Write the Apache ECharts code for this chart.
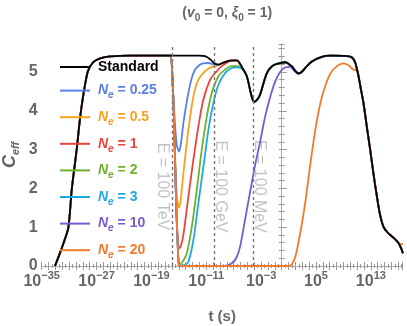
<!DOCTYPE html>
<html><head><meta charset="utf-8">
<script src="https://cdn.jsdelivr.net/npm/echarts/dist/echarts.min.js"></script>
<style>html,body{margin:0;padding:0;background:#fff}#c{width:407px;height:326px}</style>
</head><body><div id="c"></div>
<script>
// x values are log10(t / s)
const seriesNames = ['Standard','Ne = 0.25','Ne = 0.5','Ne = 1','Ne = 2','Ne = 3','Ne = 10','Ne = 20'];
const seriesColors = ['#000000','#5b7fe6','#f8a11e','#e8453c','#6fb12c','#1ea9e1','#7b5bcc','#f27a2f'];

const standard = [[-33.06,0],[-32.3,0.35],[-31.6,0.7],[-31.1,1.0],[-30.6,2.0],[-29.9,3.0],[-29.27,4.0],[-28.3,5.0],[-27.5,5.25],[-26.5,5.35],[-25,5.4],[-22,5.42],[-16.1,5.42],[-12,5.42],[-11.17,5.41],[-10.4,5.32],[-9.8,5.22],[-9.23,5.19],[-8.5,5.24],[-7.53,5.29],[-6.56,5.3],[-5.8,5.12],[-5.09,4.89],[-4.5,4.45],[-4.03,4.23],[-3.6,4.28],[-3.15,4.42],[-2.17,4.97],[-1.4,5.15],[-0.71,5.21],[0.5,5.25],[1.48,5.14],[2.0,5.02],[2.44,4.96],[2.9,5.0],[3.41,5.1],[4.39,5.27],[5.85,5.39],[7.06,5.42],[9.5,5.41],[10.2,5.38],[10.7,5.25],[11.0,5.05],[11.19,4.9],[11.5,4.6],[11.92,4.2],[12.4,3.6],[12.9,2.99],[13.4,2.35],[13.88,1.79],[14.3,1.35],[14.84,1.01],[15.5,0.85],[16.3,0.73],[17.0,0.6],[17.3,0.5],[17.5,0.42],[17.67,0.33]];

const ne025 = [[-16.03,5.42],[-15.85,4.5],[-15.6,3.75],[-15.3,3.12],[-14.97,2.95],[-14.65,3.22],[-14.34,3.68],[-13.61,4.46],[-12.88,4.97],[-11.9,5.19],[-10.69,5.23],[-9.9,5.2]];
const ne05 = [[-16.03,5.42],[-15.85,4.5],[-15.7,3.77],[-15.45,2.3],[-15.2,1.65],[-14.97,1.5],[-14.7,1.75],[-14.34,2.39],[-13.61,3.51],[-12.88,4.37],[-12.15,4.8],[-11.17,5.02],[-10.2,5.13],[-9.6,5.15]];
const ne1 = [[-16.03,5.42],[-15.85,4.5],[-15.7,3.77],[-15.41,1.7],[-15.2,0.8],[-14.97,0.45],[-14.7,0.52],[-14.34,0.8],[-13.61,1.79],[-12.88,2.74],[-12.15,3.6],[-11.42,4.29],[-10.44,4.8],[-9.72,4.97],[-8.74,5.15],[-7.9,5.25]];
const ne2 = [[-16.03,5.42],[-15.85,4.5],[-15.7,3.77],[-15.41,1.7],[-15.2,0.7],[-15.05,0.15],[-14.85,0.05],[-14.5,0.1],[-13.84,0.33],[-13.11,1.01],[-12.39,1.96],[-11.66,2.99],[-10.93,3.85],[-10.2,4.46],[-9.23,4.89],[-8.26,5.06],[-7.28,5.15],[-6.5,5.15],[-5.8,5.1]];
const ne3 = [[-16.03,5.42],[-15.85,4.5],[-15.7,3.77],[-15.41,1.7],[-15.2,0.7],[-15.05,0.1],[-14.9,0.01],[-14.2,0.02],[-13.61,0.11],[-12.88,0.67],[-12.15,1.62],[-11.42,2.56],[-10.69,3.51],[-9.96,4.2],[-9.23,4.67],[-8.26,4.97],[-7.28,5.1],[-6.5,5.12],[-5.8,5.08]];
const ne10 = [[-16.03,5.42],[-15.85,4.5],[-15.7,3.77],[-15.41,1.7],[-15.2,0.7],[-15.05,0.1],[-14.9,0],[-8.3,0],[-7.28,0.07],[-6.65,0.2],[-6.07,0.5],[-5.34,1.2],[-4.62,1.9],[-3.88,2.6],[-3.15,3.2],[-2.42,3.85],[-1.69,4.35],[-0.96,4.75],[-0.23,5.0],[0.5,5.12],[1.2,5.13],[1.8,5.03],[2.3,4.96]];
const ne20 = [[-16.03,5.42],[-15.85,4.5],[-15.7,3.77],[-15.41,1.7],[-15.2,0.7],[-15.05,0.1],[-14.9,0],[1.0,0],[1.5,0.05],[2.0,0.25],[2.7,0.85],[3.4,1.6],[4.15,2.6],[4.8,3.4],[5.4,4.0],[6.1,4.5],[7.06,4.95],[8.04,5.15],[9.0,5.22],[9.73,5.17],[10.46,5.06],[11.0,5.03]];
const ne20Tail = [[17.3,0.57],[17.67,0.56]];

const energyLines = [-16.0, -9.87, -4.22];
const energyLabels = ['E = 100 TeV','E = 100 GeV','E = 100 MeV'];
const energyLabelShift = [-9.5, 6, 6.3];
const labelYValue = 2.05;

const xMin = -35, xMax = 17.64, yMin = 0, yMax = 5.72;

// Curves share the standard history before the drop and merge back into it afterwards
function compose(own, tail) {
  const first = own[0][0], last = own[own.length-1][0];
  const stop = tail ? tail[0][0] : Infinity;
  const pre = standard.filter(p => p[0] < first);
  const post = standard.filter(p => p[0] > last && p[0] < stop);
  return pre.concat(own, post, tail || []);
}
const seriesData = [standard, compose(ne025), compose(ne05), compose(ne1), compose(ne2), compose(ne3), compose(ne10), compose(ne20, ne20Tail)];

const FONT = '"Liberation Sans", Arial, sans-serif';
const GRAY = '#666';
const grid = {left: 41.7, right: 4.3, top: 44, bottom: 60};

function legendFormatter(name) {
  if (name === 'Standard') return '{st|Standard}';
  return '{n|N}{e|e}{t|' + name.slice(2) + '}';
}
const legendRich = {
  st: {fontSize: 14, fontWeight: 'bold', fontFamily: FONT, lineHeight: 20, verticalAlign: 'middle', padding: [0,0,0,3]},
  n: {fontSize: 14, fontWeight: 'bold', fontStyle: 'italic', fontFamily: FONT, lineHeight: 20, verticalAlign: 'middle', padding: [0,0,0,3]},
  e: {fontSize: 10, fontWeight: 'bold', fontStyle: 'italic', fontFamily: FONT, lineHeight: 20, verticalAlign: 'bottom'},
  t: {fontSize: 14, fontWeight: 'bold', fontFamily: FONT, lineHeight: 20, verticalAlign: 'middle'}
};

const tickAxisCommon = {
  type: 'value', axisLabel: {show: false}, splitLine: {show: false},
  axisLine: {show: true, lineStyle: {color: '#aaa', width: 1}}
};

const option = {
  animation: false,
  backgroundColor: '#fff',
  title: {
    text: '({i|v}{s|0} = 0, {i|ξ}{s|0} = 1)',
    left: grid.left + (407 - grid.left - grid.right) / 2, top: -2, textAlign: 'center',
    textStyle: {
      fontSize: 14, fontWeight: 'bold', color: GRAY, fontFamily: FONT,
      rich: {
        i: {fontSize: 14, fontWeight: 'bold', fontStyle: 'italic', color: GRAY, fontFamily: FONT, lineHeight: 20, verticalAlign: 'middle'},
        s: {fontSize: 10, fontWeight: 'bold', color: GRAY, fontFamily: FONT, lineHeight: 20, verticalAlign: 'bottom'}
      }
    }
  },
  grid: Object.assign({outerBoundsMode: 'none', containLabel: false}, grid),
  legend: {
    orient: 'vertical', left: 60, top: 60, padding: 0,
    itemWidth: 30, itemHeight: 14, itemGap: 9.6,
    icon: 'path://M0,0H30V2H0Z', symbolKeepAspect: true,
    data: seriesNames.map((n, i) => ({name: n, textStyle: {color: seriesColors[i], rich: legendRich}})),
    formatter: legendFormatter,
    textStyle: {fontFamily: FONT, fontSize: 14, fontWeight: 'bold', rich: legendRich}
  },
  xAxis: [
    {
      type: 'value', position: 'bottom', min: xMin, max: xMax, interval: 8,
      name: 't (s)', nameLocation: 'middle', nameGap: 43,
      nameTextStyle: {fontSize: 15, fontWeight: 'bold', color: GRAY, fontFamily: FONT},
      axisLine: {show: true, lineStyle: {color: '#aaa'}},
      axisTick: {show: false}, splitLine: {show: false},
      axisLabel: {
        margin: 4, showMaxLabel: false, alignMinLabel: 'center', color: GRAY,
        formatter: v => { const e = Math.round(v); return '{b|10}{s|' + (e < 0 ? '\u2212' : '') + Math.abs(e) + '}'; },
        rich: {
          b: {fontSize: 16, fontWeight: 'bold', color: GRAY, fontFamily: FONT, lineHeight: 20, verticalAlign: 'bottom'},
          s: {fontSize: 11, fontWeight: 'bold', color: GRAY, fontFamily: FONT, lineHeight: 20, verticalAlign: 'top'}
        }
      }
    },
    Object.assign({}, tickAxisCommon, {position: 'bottom', min: xMin, max: xMax, interval: 1,
      axisLine: {show: false},
      axisTick: {show: true, inside: true, length: 4, lineStyle: {color: '#999'}},
      minorTick: {show: true, splitNumber: 2, length: 2, lineStyle: {color: '#999'}}}),
    Object.assign({}, tickAxisCommon, {position: 'top', min: xMin, max: xMax, interval: 1,
      axisTick: {show: true, inside: true, length: 4, lineStyle: {color: '#999'}},
      minorTick: {show: true, splitNumber: 2, length: 2, lineStyle: {color: '#999'}}})
  ],
  yAxis: [
    {
      type: 'value', position: 'left', min: yMin, max: yMax, interval: 1,
      name: '{c|C}{s|eff}', nameLocation: 'middle', nameGap: 20, nameRotate: 90, nameMoveOverlap: false,
      nameTextStyle: {
        color: GRAY, fontFamily: FONT,
        rich: {
          c: {fontSize: 18, fontWeight: 'bold', fontStyle: 'italic', color: GRAY, fontFamily: FONT, lineHeight: 24, verticalAlign: 'middle'},
          s: {fontSize: 11, fontWeight: 'bold', fontStyle: 'italic', color: GRAY, fontFamily: FONT, lineHeight: 24, verticalAlign: 'bottom'}
        }
      },
      axisLine: {show: true, lineStyle: {color: '#aaa'}},
      axisTick: {show: true, inside: true, length: 5, lineStyle: {color: '#999'}},
      splitLine: {show: false},
      axisLabel: {margin: 4, color: GRAY, fontSize: 16, fontWeight: 'bold', fontFamily: FONT, showMaxLabel: false}
    },
    Object.assign({}, tickAxisCommon, {position: 'left', min: yMin, max: yMax, interval: 0.2,
      axisLine: {show: false},
      axisTick: {show: true, inside: true, length: 3, lineStyle: {color: '#999'}}}),
    Object.assign({}, tickAxisCommon, {position: 'right', min: yMin, max: yMax, interval: 0.2,
      axisTick: {show: true, inside: true, length: 3, lineStyle: {color: '#999'}}})
  ],
  series: []
};

// draw order: coloured curves first (Ne = 20 on top of them), Standard last
const order = [1,2,3,4,5,6,7,0];
order.forEach(i => {
  const s = {
    name: seriesNames[i], type: 'line', xAxisIndex: 0, yAxisIndex: 0,
    data: seriesData[i], symbol: 'none', showSymbol: false, smooth: 0.3,
    color: seriesColors[i],
    lineStyle: {width: 1.8, color: seriesColors[i]}, z: 2 + order.indexOf(i) * 0.01
  };
  if (i === 0) {
    s.markLine = {
      silent: true, symbol: ['none','none'], label: {show: false},
      lineStyle: {type: [3,3], color: '#777', width: 1.4},
      data: energyLines.map(v => ({xAxis: v}))
    };
  }
  option.series.push(s);
});

const chart = echarts.init(document.getElementById('c'), null, {renderer: 'canvas'});
chart.setOption(option);

const yPix = chart.convertToPixel({yAxisIndex: 0}, labelYValue);
chart.setOption({
  graphic: energyLines.map((v, k) => ({
    type: 'text', silent: true, z: 1,
    x: chart.convertToPixel({xAxisIndex: 0}, v) + energyLabelShift[k], y: yPix,
    rotation: -Math.PI / 2,
    style: {text: energyLabels[k], fill: '#c3c3c3', font: '16px ' + FONT, align: 'center', verticalAlign: 'middle'}
  }))
});
</script></body></html>
